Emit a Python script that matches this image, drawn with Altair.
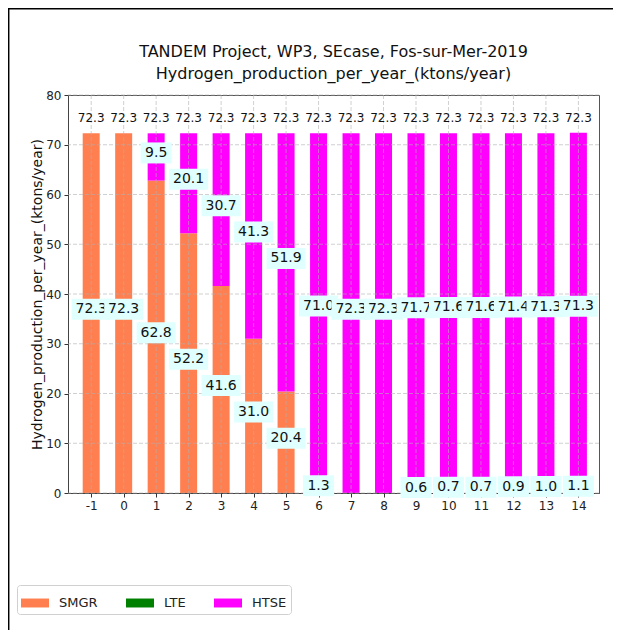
import altair as alt
import pandas as pd

# ---------------- data ----------------
years = list(range(-1, 15))
series_names = ["SMGR", "LTE", "HTSE"]
series_colors = ["#FF7F50", "#008000", "#FF00FF"]
smgr = [72.3, 72.3, 62.8, 52.2, 41.6, 31.0, 20.4, 1.3, 0.0, 0.0, 0.6, 0.7, 0.7, 0.9, 1.0, 1.1]
lte = [0.0] * 16
htse = [0.0, 0.0, 9.5, 20.1, 30.7, 41.3, 51.9, 71.0, 72.3, 72.3, 71.7, 71.6, 71.6, 71.4, 71.3, 71.3]
totals = [72.3] * 16
y_ticks = [0, 10, 20, 30, 40, 50, 60, 70, 80]

title_lines = ["TANDEM Project, WP3, SEcase, Fos-sur-Mer-2019",
               "Hydrogen_production_per_year_(ktons/year)"]
y_title = "Hydrogen_production_per_year_(ktons/year)"

FONT = "DejaVu Sans"

# ---------------- tables ----------------
rows = []
labels = []
for si, (name, vals) in enumerate(zip(series_names, [smgr, lte, htse])):
    for i, (yr, v) in enumerate(zip(years, vals)):
        rows.append({"year": yr, "series": name, "order": si, "value": v})
bars_df = pd.DataFrame(rows)

k = 0
for si, (name, vals) in enumerate(zip(series_names, [smgr, lte, htse])):
    for i, (yr, v) in enumerate(zip(years, vals)):
        if v > 0:
            below = sum([smgr, lte, htse][j][i] for j in range(si))
            txt = f"{v:.1f}"
            labels.append({"k": k, "year": yr, "mid": below + v / 2.0, "txt": txt,
                           "w": 39 if len(txt) >= 4 else 31})
            k += 1
labels_df = pd.DataFrame(labels)
tot_df = pd.DataFrame({"year": years, "total": totals, "txt": [f"{t:.1f}" for t in totals]})
xgrid_df = pd.DataFrame({"year": years})
ygrid_df = pd.DataFrame({"v": y_ticks})

xscale = alt.Scale(domain=[-1.56, 14.48], nice=False, zero=False)
yscale = alt.Scale(domain=[0, 80], nice=False)

xaxis = alt.Axis(values=years, labelExpr="'' + datum.value", title=None, grid=False,
                 labelOverlap=False, labelBound=False, labelSeparation=0,
                 labelFont=FONT, labelFontSize=12, labelColor="#222",
                 tickColor="#333", tickSize=4, domainColor="#444",
                 labelPadding=3, labelFlush=False)
yaxis = alt.Axis(values=y_ticks, title=y_title, grid=False,
                 labelFont=FONT, labelFontSize=12, labelColor="#222",
                 tickColor="#333", tickSize=4, domainColor="#444",
                 titleFont=FONT, titleFontSize=14, titleFontWeight="normal",
                 titleColor="#111", titlePadding=1, labelPadding=3)

def X(field):
    return alt.X(field, scale=xscale, axis=xaxis)

def Y(field, **kw):
    return alt.Y(field, scale=yscale, axis=yaxis, **kw)

bars = alt.Chart(bars_df).mark_bar(width=17).encode(
    x=X("year:Q"),
    y=Y("value:Q", stack="zero"),
    color=alt.Color("series:N",
                    scale=alt.Scale(domain=series_names, range=series_colors),
                    legend=alt.Legend(title=None, orient="none", legendX=-51, legendY=490,
                                      direction="horizontal", columns=3,
                                      columnPadding=28, padding=4,
                                      strokeColor="#d0d0d0", cornerRadius=3,
                                      fillColor="white",
                                      symbolType="M-1,-0.32L1,-0.32L1,0.32L-1,0.32Z",
                                      symbolSize=784, symbolStrokeWidth=0,
                                      symbolOpacity=1,
                                      labelFont=FONT, labelFontSize=13,
                                      labelColor="#222", labelOffset=10)),
    order=alt.Order("order:Q"),
)

xgrid = alt.Chart(xgrid_df).mark_rule(color="#b0b0b0", strokeDash=[4, 2],
                                      strokeWidth=0.8, opacity=0.75).encode(
    x=X("year:Q")
)
ygrid = alt.Chart(ygrid_df).mark_rule(color="#b0b0b0", strokeDash=[4, 2],
                                      strokeWidth=0.8, opacity=0.75).encode(
    y=Y("v:Q")
)

top_text = alt.Chart(tot_df).mark_text(font=FONT, fontSize=12, dy=-15,
                                       baseline="middle", color="#111").encode(
    x=X("year:Q"),
    y=Y("total:Q"),
    text="txt:N",
)

# figure frame (left and top edges of the figure border; the rest falls outside the page)
frame = alt.Chart(ygrid_df.head(1)).mark_rect(fill=None, fillOpacity=0, stroke="black",
                                               strokeWidth=1.5).encode(
    x=alt.value(-59.3), x2=alt.value(700), y=alt.value(-86.3), y2=alt.value(700)
)

layers = [bars, xgrid, ygrid, top_text]
for row in labels:
    base = alt.Chart(labels_df).transform_filter(alt.datum.k == row["k"])
    box = base.mark_rect(width=row["w"], height=21, color="#E0FFFF", yOffset=-4).encode(
        x=X("year:Q"),
        y=Y("mid:Q"),
    )
    txt = base.mark_text(font=FONT, fontSize=14, baseline="middle", dy=-4,
                         color="#111").encode(
        x=X("year:Q"),
        y=Y("mid:Q"),
        text="txt:N",
    )
    layers += [box, txt]
layers += [frame]

chart = alt.layer(*layers).properties(
    width=531, height=398,
    title=alt.Title(title_lines, font=FONT, fontSize=16, fontWeight="normal",
                    color="#111", anchor="middle", lineHeight=22, offset=-74,
                    frame="group"),
    padding={"left": 60, "top": 87, "right": 14, "bottom": 137},
    autosize=alt.AutoSizeParams(type="none"),
).configure_view(stroke="#555", strokeWidth=1).configure_axisX(labelOverlap=False)

chart.save("out.html", embed_options={"renderer": "svg", "actions": False})
